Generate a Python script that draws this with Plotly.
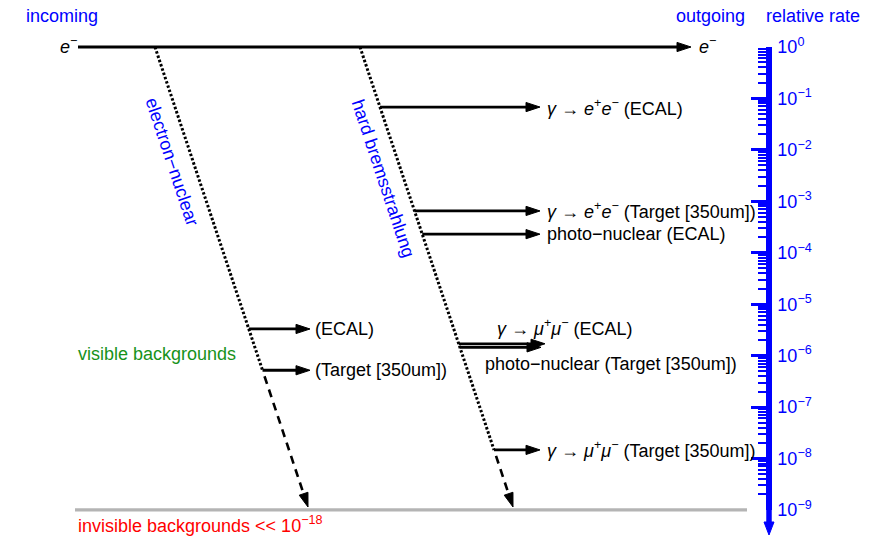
import numpy as np
import plotly.graph_objects as go

# ---------------------------------------------------------------------------
# Background channels and their relative rates (per incoming electron)
# ---------------------------------------------------------------------------
brem_channels = [
    "<i>γ</i> → <i>e</i><sup>+</sup><i>e</i><sup>−</sup> (ECAL)",
    "<i>γ</i> → <i>e</i><sup>+</sup><i>e</i><sup>−</sup> (Target [350um])",
    "photo−nuclear (ECAL)",
    "<i>γ</i> → <i>μ</i><sup>+</sup><i>μ</i><sup>−</sup> (ECAL)",
    "photo−nuclear (Target [350um])",
    "<i>γ</i> → <i>μ</i><sup>+</sup><i>μ</i><sup>−</sup> (Target [350um])",
]
brem_rates = [6.8e-2, 6.5e-4, 2.3e-4, 1.7e-6, 1.45e-6, 1.47e-8]

en_channels = ["(ECAL)", "(Target [350um])"]
en_rates = [3.3e-6, 5.2e-7]

rate_exponents = [0, -1, -2, -3, -4, -5, -6, -7, -8, -9]
rate_tick_text = ["10<sup>0</sup>", "10<sup>−1</sup>", "10<sup>−2</sup>",
                  "10<sup>−3</sup>", "10<sup>−4</sup>", "10<sup>−5</sup>",
                  "10<sup>−6</sup>", "10<sup>−7</sup>", "10<sup>−8</sup>",
                  "10<sup>−9</sup>"]

# ---------------------------------------------------------------------------
# Page geometry (pixels); the x axis runs in pixels, the y axis is log(rate)
# ---------------------------------------------------------------------------
W, H = 884, 537
TOP_PX = 47.0          # row of rate 1
DEC_PX = 51.44         # rows per decade
AXIS_X = 769.0         # position of the rate axis

FONT = "Liberation Sans, Arial, sans-serif"
BLUE = "#0000ff"


def rate_at(py):
    return float(10 ** (-(py - TOP_PX) / DEC_PX))


def log_at(py):
    return float(-(py - TOP_PX) / DEC_PX)


def row_of(rate):
    return float(TOP_PX - DEC_PX * np.log10(rate))


# the two process lines leaving the beam, (top point, arrow tip)
EN_LINE = ((155.0, TOP_PX), (308.0, 507.0))
BREM_LINE = ((360.0, TOP_PX), (513.0, 507.0))


def x_on(line, py):
    (x0, y0), (x1, y1) = line
    return x0 + (x1 - x0) * (py - y0) / (y1 - y0)


def head(tip, direction, length=14.0, half=4.6):
    tx, ty = tip
    dx, dy = direction
    n = np.hypot(dx, dy)
    ux, uy = dx / n, dy / n
    bx, by = tx - ux * length, ty - uy * length
    px, py = -uy, ux
    return [(bx + px * half, by + py * half), (tx, ty),
            (bx - px * half, by - py * half), (bx + px * half, by + py * half)]


def to_xy(points_list):
    xs, ys = [], []
    for pts in points_list:
        for x, y in pts:
            xs.append(float(x))
            ys.append(rate_at(y))
        xs.append(None)
        ys.append(None)
    return xs, ys


brem_tip_x = [540, 540, 540, 545, 541, 540]
brem_label_x = [545, 545, 545, 495, 483, 545]
brem_label_dy = [0, 0, 0, -16, 17, 0]
en_tip_x = [310, 310]
en_label_x = [313, 313]

shafts, heads, labels = [], [], []

# beam electron
shafts.append([(78, TOP_PX), (680, TOP_PX)])
heads.append(head((691, TOP_PX), (1, 0)))

for name, rate, tip, lx, ldy in zip(brem_channels, brem_rates, brem_tip_x,
                                    brem_label_x, brem_label_dy):
    py = row_of(rate)
    x0 = x_on(BREM_LINE, py)
    shafts.append([(x0, py), (tip - 10, py)])
    heads.append(head((tip, py), (1, 0)))
    labels.append((name, lx, py + ldy))

for name, rate, tip, lx in zip(en_channels, en_rates, en_tip_x, en_label_x):
    py = row_of(rate)
    x0 = x_on(EN_LINE, py)
    shafts.append([(x0, py), (tip - 10, py)])
    heads.append(head((tip, py), (1, 0)))
    labels.append((name, lx, py))

# dotted down to the last visible channel, dashed below
dotted, dashed = [], []
for line, rates in ((EN_LINE, en_rates), (BREM_LINE, brem_rates)):
    (x0, y0), (x1, y1) = line
    ylow = row_of(min(rates))
    dotted.append([(x0, y0), (x_on(line, ylow), ylow)])
    base_y = y1 - 12 * (y1 - y0) / np.hypot(x1 - x0, y1 - y0)
    dashed.append([(x_on(line, ylow + 6), ylow + 6), (x_on(line, base_y), base_y)])
    heads.append(head((x1, y1), (x1 - x0, y1 - y0)))

fig = go.Figure()

# invisible-background floor at 1e-9
fx, fy = to_xy([[(75, row_of(1e-9)), (747, row_of(1e-9))]])
fig.add_trace(go.Scatter(x=fx, y=fy, mode="lines",
                         line=dict(color="#b4b4b4", width=3.2)))

x, y = to_xy(dotted)
fig.add_trace(go.Scatter(x=x, y=y, mode="lines",
                         line=dict(color="black", width=3, dash="2.5px,2px")))
x, y = to_xy(dashed)
fig.add_trace(go.Scatter(x=x, y=y, mode="lines",
                         line=dict(color="black", width=2.6, dash="8px,6px")))
x, y = to_xy(shafts)
fig.add_trace(go.Scatter(x=x, y=y, mode="lines",
                         line=dict(color="black", width=2.8)))
x, y = to_xy(heads)
fig.add_trace(go.Scatter(x=x, y=y, mode="lines", fill="toself",
                         fillcolor="black", line=dict(color="black", width=1)))

# arrow continuing the rate axis downwards
x, y = to_xy([[(AXIS_X, row_of(1e-9)), (AXIS_X, 523)]])
fig.add_trace(go.Scatter(x=x, y=y, mode="lines", line=dict(color=BLUE, width=5.5)))
x, y = to_xy([head((AXIS_X, 535), (0, 1), length=13, half=5)])
fig.add_trace(go.Scatter(x=x, y=y, mode="lines", fill="toself",
                         fillcolor=BLUE, line=dict(color=BLUE, width=1)))

# carrier trace for the rate axis
fig.add_trace(go.Scatter(x=[None], y=[None], yaxis="y2", xaxis="x"))

ann = []


def text(t, x, py, color="black", anchor="left", size=18, angle=0):
    ann.append(dict(text=t, x=x, y=log_at(py), xref="x", yref="y",
                    xanchor=anchor, yanchor="middle", showarrow=False,
                    textangle=angle, font=dict(family=FONT, size=size, color=color)))


for t, lx, py in labels:
    text(t, lx, py)

text("incoming", 24, 16, color=BLUE)
text("outgoing", 674, 16, color=BLUE)
text("relative rate", 764, 16, color=BLUE)
text("<i>e</i><sup>−</sup>", 68, 45, anchor="center")
text("<i>e</i><sup>−</sup>", 707, 45, anchor="center")
text("electron−nuclear", 172, 162, color=BLUE, anchor="center", angle=71.6)
text("hard bremsstrahlung", 383, 178, color=BLUE, anchor="center", angle=71.6)
text("visible backgrounds", 76, 354, color="#17921a")
text("invisible backgrounds << 10<sup>−18</sup>", 76, 524, color="#ff0000")

fig.update_layout(
    width=W, height=H,
    margin=dict(l=0, r=0, t=0, b=0, pad=0, autoexpand=False),
    paper_bgcolor="white", plot_bgcolor="rgba(0,0,0,0)", showlegend=False,
    annotations=ann,
    xaxis=dict(range=[0, W], visible=False, fixedrange=True, automargin=False),
    yaxis=dict(type="log", range=[log_at(H), log_at(0)], visible=False,
               fixedrange=True, automargin=False),
    yaxis2=dict(type="log", domain=[(H - row_of(1e-9)) / H, (H - TOP_PX) / H],
                range=[min(rate_exponents), max(rate_exponents)],
                anchor="free", position=AXIS_X / W, side="right",
                automargin=False,
                showline=True, linecolor=BLUE, linewidth=5.5,
                ticks="inside", ticklen=15, tickwidth=3, tickcolor=BLUE,
                tickmode="array", tickvals=[10.0 ** e for e in rate_exponents],
                ticktext=rate_tick_text, ticklabelstandoff=2,
                tickfont=dict(family=FONT, size=18, color=BLUE),
                minor=dict(ticks="inside", ticklen=8, tickwidth=2.2,
                           tickcolor=BLUE, dtick="D1", tickmode="linear"),
                showgrid=False, zeroline=False, fixedrange=True),
)

fig.write_html("out.html")
